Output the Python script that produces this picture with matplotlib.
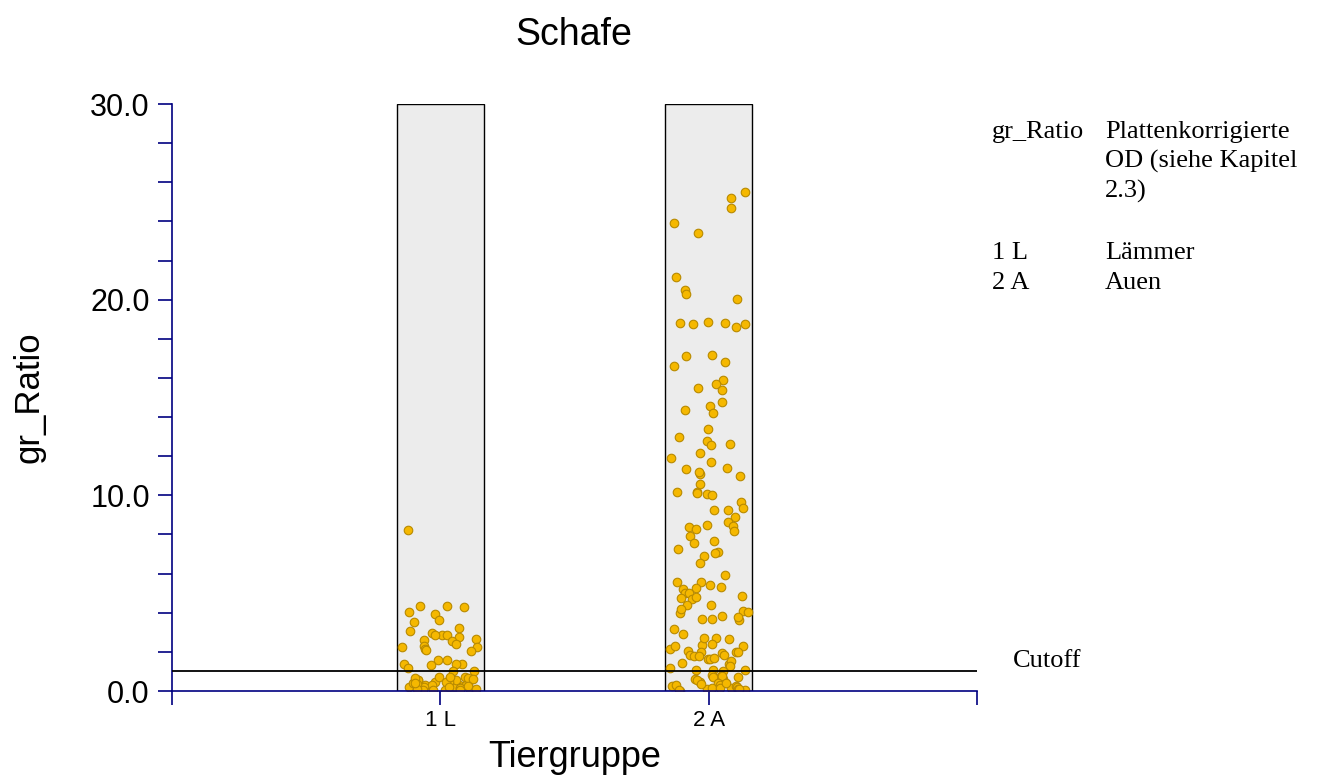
import numpy as np
import matplotlib
matplotlib.use("Agg")
import matplotlib.pyplot as plt

plt.rcParams['font.family'] = ['Liberation Sans', 'DejaVu Sans']

groups = ['1 L', '2 A']
cutoff = 1.0

ratio_1L = [8.24, 4.37, 4.30, 4.34, 4.06, 3.96, 3.62, 3.55, 3.24, 3.06, 2.99,
            2.88, 2.87, 2.87, 2.76, 2.68, 2.60, 2.56, 2.41, 2.32, 2.24, 2.27,
            2.17, 2.08, 2.03, 1.60, 1.59, 1.38, 1.37, 1.38, 1.33, 1.18, 1.02,
            1.03, 0.56, 0.68, 0.31, 0.31, 0.22, 0.56, 0.31, 0.05, 0.22, 0.73,
            0.48, 0.17, 0.56, 0.22, 0.65, 0.31, 0.73, 0.39, 0.56, 0.22, 0.14,
            0.05, 0.05, 0.05, 0.48, 0.34, 0.65, 0.14, 0.05, 0.45, 0.60, 0.10,
            0.27, 0.40, 0.08, 0.70, 0.20]

ratio_2A = [25.50, 25.19, 24.71, 23.90, 23.40, 21.15, 20.47, 20.29, 20.01,
            18.80, 18.75, 18.86, 18.62, 18.75, 18.80, 17.10, 17.18, 16.83,
            16.62, 15.89, 15.47, 15.69, 15.37, 14.78, 14.55, 14.22, 14.38,
            13.37, 12.96, 12.79, 12.55, 12.61, 12.16, 11.92, 11.69, 11.34,
            11.39, 11.10, 11.19, 10.97, 10.59, 10.18, 10.13, 10.05, 10.17,
            10.00, 9.66, 9.26, 9.26, 9.37, 8.91, 8.64, 8.42, 8.18, 8.38, 8.50,
            8.29, 7.90, 7.68, 7.55, 7.09, 7.07, 7.27, 6.88, 6.53, 5.94, 5.57,
            5.21, 5.43, 5.55, 5.33, 5.25, 5.01, 4.85, 4.99, 4.75, 4.70, 4.79,
            4.38, 4.38, 4.10, 3.97, 3.68, 3.85, 3.63, 4.04, 4.19, 3.66, 3.77,
            3.17, 2.72, 2.90, 2.64, 2.31, 2.40, 2.15, 2.30, 2.37, 1.99, 2.03,
            1.96, 1.99, 1.82, 1.82, 1.80, 1.79, 1.38, 1.62, 1.53, 1.62, 1.43,
            2.69, 1.98, 1.70, 1.07, 1.16, 1.07, 1.28, 1.02, 1.07, 0.77, 0.70,
            0.60, 0.82, 0.70, 0.56, 0.63, 0.77, 0.42, 0.14, 0.09, 0.26, 0.14,
            0.26, 0.31, 0.17, 0.48, 0.56, 0.39, 0.31, 0.22, 0.10, 0.05, 0.00,
            0.05, 0.12, 0.36]

legend_rows = [('gr_Ratio', 'Plattenkorrigierte\nOD (siehe Kapitel\n2.3)'),
               ('1 L', 'Lämmer'),
               ('2 A', 'Auen')]

navy = '#000080'
fig = plt.figure(figsize=(13.17, 7.78), dpi=100)
ax = fig.add_axes([0.1306, 0.1118, 0.6112, 0.7545])

# grey column behind each group
ax.bar([1, 2], [30, 30], width=0.323, color='#ececec', edgecolor='black',
       linewidth=1, zorder=1)

rng = np.random.default_rng(3)
for i, vals in enumerate([ratio_1L, ratio_2A]):
    xs = (i + 1) + rng.uniform(-0.145, 0.145, len(vals))
    ax.scatter(xs, vals, s=38, facecolor='#f5b800', edgecolor='#b88a00',
               linewidth=0.8, zorder=2)

ax.axhline(cutoff, color='black', linewidth=1.3, zorder=3)

ax.set_xlim(0, 3)
ax.set_ylim(0, 30)
ax.set_xticks([0, 1, 2, 3])
ax.set_xticklabels(['', groups[0], groups[1], ''], fontsize=16)
ax.set_yticks(np.arange(0, 31, 2))
ax.set_yticklabels(['%.1f' % v if v % 10 == 0 else '' for v in np.arange(0, 31, 2)],
                   fontsize=22)
ax.tick_params(axis='both', color=navy, length=10, width=1.2)
ax.tick_params(axis='y', pad=6)
for s in ['top', 'right']:
    ax.spines[s].set_visible(False)
for s in ['left', 'bottom']:
    ax.spines[s].set_color(navy)
    ax.spines[s].set_linewidth(1.2)

ax.set_xlabel('Tiergruppe', fontsize=26, labelpad=7)
ax.set_ylabel('gr_Ratio', fontsize=25, labelpad=32)
fig.text(0.436, 0.955, 'Schafe', fontsize=27, ha='center', va='center')

serif = ['Liberation Serif', 'DejaVu Serif']
ys = [0.844, 0.689, 0.651]
for (k, v), y in zip(legend_rows, ys):
    fig.text(0.753, y, k, fontsize=19, family=serif, va='top', linespacing=1.37)
    fig.text(0.839, y, v, fontsize=19, family=serif, va='top', linespacing=1.37)
fig.text(0.769, 0.151, 'Cutoff', fontsize=19, family=serif, va='center')

fig.savefig('out.png', dpi=100)
